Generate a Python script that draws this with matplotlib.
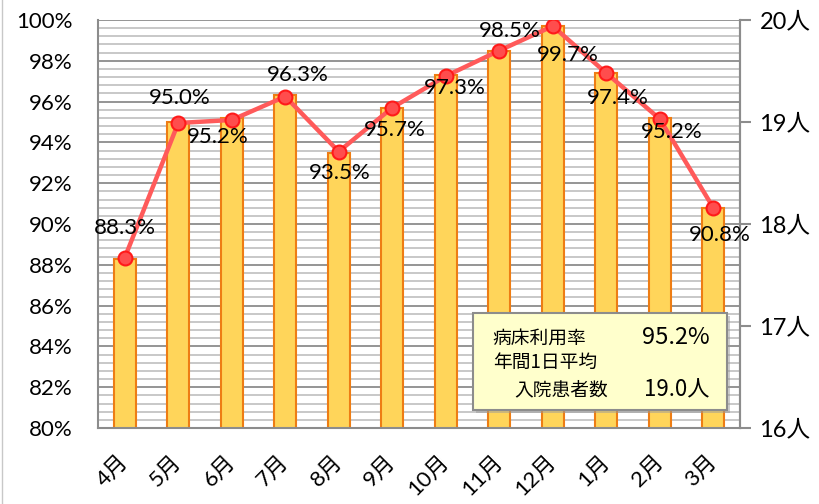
import numpy as np
import matplotlib
matplotlib.use("Agg")
import matplotlib.pyplot as plt
from matplotlib.ticker import MultipleLocator, FuncFormatter
from matplotlib.lines import Line2D
from matplotlib.patches import Rectangle

plt.rcParams['font.family'] = ['Lato', 'Noto Sans CJK JP', 'DejaVu Sans']

# data
months = ["4月", "5月", "6月", "7月", "8月", "9月", "10月", "11月", "12月", "1月", "2月", "3月"]
occupancy = [88.3, 95.0, 95.2, 96.3, 93.5, 95.7, 97.3, 98.5, 99.7, 97.4, 95.2, 90.8]   # 病床利用率 (%)
patients = [17.67, 18.99, 19.02, 19.25, 18.71, 19.14, 19.45, 19.70, 19.94, 19.48, 19.03, 18.16]  # 1日平均入院患者数
summary_rate = "95.2%"
summary_patients = "19.0人"

# label offsets (pixels) relative to bar top
label_off = [(0, 31), (2, 24), (-14, -19), (13, 20), (1, -20), (3, -22),
             (9, -13), (11, 20), (15, -29), (12, -25), (12, -14), (7, -27)]

fig = plt.figure(figsize=(8.2, 5.04), dpi=100)
ax = fig.add_axes([98/820, 1-428/504, (740-98)/820, (428-20)/504])
x = np.arange(len(months))

ax.set_ylim(80, 100)
ax.set_xlim(-0.5, len(months)-0.5)
ax.yaxis.set_major_locator(MultipleLocator(2))
ax.yaxis.set_minor_locator(MultipleLocator(0.4))
ax.yaxis.set_major_formatter(FuncFormatter(lambda v, p: "%d%%" % round(v)))
ax.grid(which='minor', axis='y', color='#c4c4c4', lw=1.3, zorder=0)
ax.grid(which='major', axis='y', color='#8c8c8c', lw=1.3, zorder=0)
ax.set_axisbelow(True)

ax.bar(x, occupancy, width=0.42, bottom=0, color='#ffd55a', edgecolor='#ee7d14',
       linewidth=1.5, zorder=2)

ax.tick_params(axis='y', which='both', length=0, labelsize=16, pad=18)
ax.tick_params(axis='x', length=0, pad=22)
ax.set_xticks(x)
ax.set_xticklabels(months, rotation=45, ha='right', fontsize=16,
                   rotation_mode='anchor', va='center')

for s in ['left', 'bottom', 'right']:
    ax.spines[s].set_color('#8c8c8c')
    ax.spines[s].set_linewidth(1.5)
ax.spines['top'].set_visible(False)

ax2 = ax.twinx()
ax2.set_ylim(16, 20)
ax2.set_yticks([16, 17, 18, 19, 20])
ax2.yaxis.set_major_formatter(FuncFormatter(lambda v, p: "%d人" % round(v)))
ax2.tick_params(axis='y', length=8, width=1.5, color='#8c8c8c', labelsize=17, pad=6)
for s in ['left', 'bottom', 'top']:
    ax2.spines[s].set_visible(False)
ax2.spines['right'].set_color('#8c8c8c')
ax2.spines['right'].set_linewidth(1.5)
ax2.plot(x, patients, color='#ff5a5a', lw=3.2, marker='o', markersize=10,
         markerfacecolor='#ff4d4d', markeredgecolor='#ff1a1a', markeredgewidth=1.5,
         zorder=4)

for i, v in enumerate(occupancy):
    ax2.annotate("%.1f%%" % v, xy=(x[i], v), xycoords=ax.transData,
                 xytext=label_off[i], textcoords='offset pixels',
                 ha='center', va='center', fontsize=16, zorder=6)

# summary box
ax2.add_patch(Rectangle((0.589, 0.036), 0.396, 0.238, transform=ax2.transAxes,
                        facecolor='#9a9a9a', edgecolor='none', alpha=0.5, zorder=7))
ax2.add_patch(Rectangle((0.584, 0.044), 0.396, 0.238, transform=ax2.transAxes,
                        facecolor='#ffffcc', edgecolor='#8c8c8c', lw=1.5, zorder=8))
jp = ['Noto Sans CJK JP']
ax2.text(0.615, 0.221, "病床利用率", transform=ax2.transAxes, fontsize=13.5, family=jp,
         va='center', ha='left', zorder=9)
ax2.text(0.952, 0.221, summary_rate, transform=ax2.transAxes, fontsize=17, family=jp,
         va='center', ha='right', zorder=9)
ax2.text(0.615, 0.160, "年間1日平均", transform=ax2.transAxes, fontsize=13.5, family=jp,
         va='center', ha='left', zorder=9)
ax2.text(0.648, 0.093, "入院患者数", transform=ax2.transAxes, fontsize=13.5, family=jp,
         va='center', ha='left', zorder=9)
ax2.text(0.952, 0.093, summary_patients, transform=ax2.transAxes, fontsize=16, family=jp,
         va='center', ha='right', zorder=9)

fig.add_artist(Line2D([0.003, 0.003], [0, 1], color='#c8c8c8', lw=1, transform=fig.transFigure))

fig.savefig("out.png", dpi=100)
